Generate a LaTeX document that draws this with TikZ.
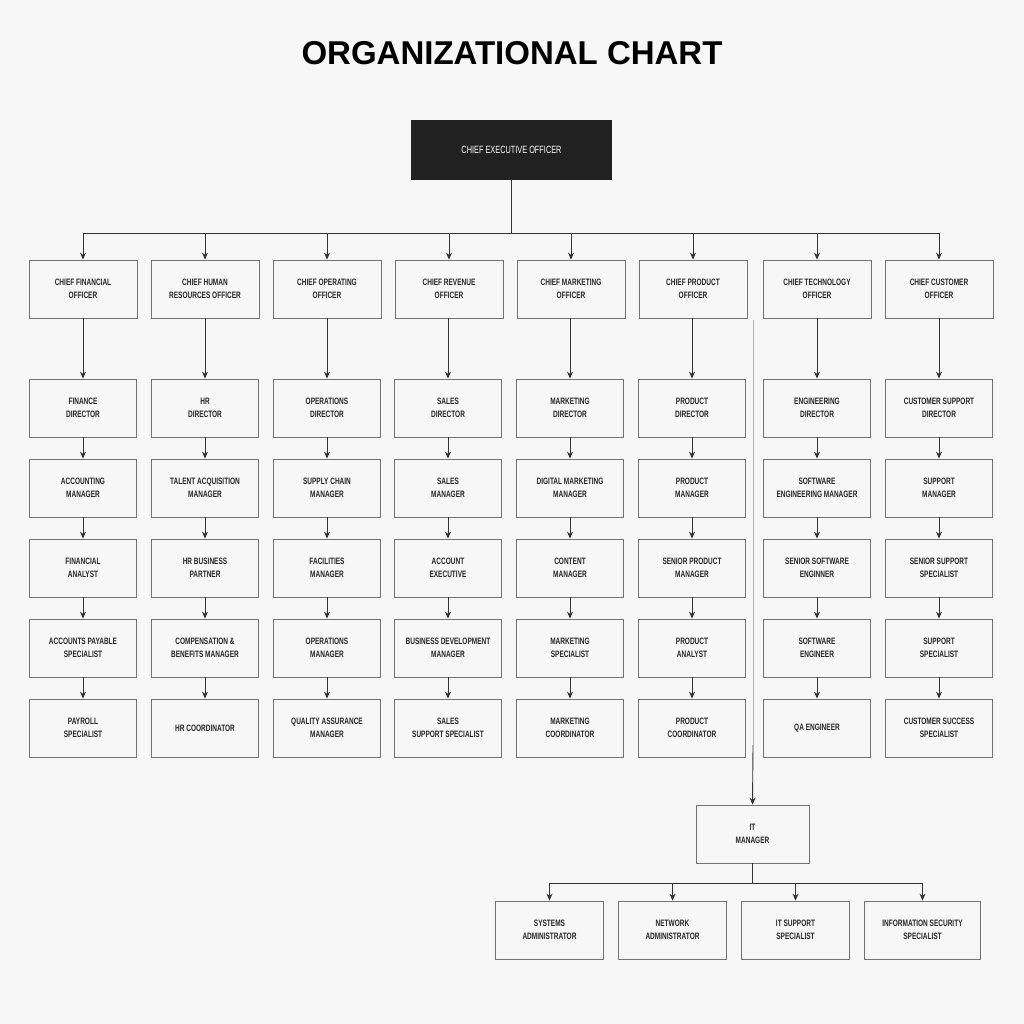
\documentclass[tikz,border=0pt]{standalone}
\usepackage{fontspec}
\setmainfont{Liberation Sans}
\newfontfamily\boxfont[FakeStretch=0.7]{Liberation Sans}
\usetikzlibrary{arrows.meta}
\begin{document}
\begin{tikzpicture}[x=1pt,y=-1pt,
  box/.style={draw=black!55,line width=0.8pt,fill=black!3,minimum width=107pt,minimum height=58pt,align=center,font=\boxfont\bfseries\fontsize{9.3}{13}\selectfont,text=black!85,inner sep=1pt},
  ceo/.style={fill=black!87,text=white,minimum width=201pt,minimum height=60pt,font=\boxfont\fontsize{10.5}{13}\selectfont},
  conn/.style={draw=black!80,line width=0.9pt},
  arr/.style={conn,-{Stealth[length=7pt,width=6pt]}}]
\fill[black!3] (0,0) rectangle (1024,1024);
\useasboundingbox (0,0) rectangle (1024,1024);
\node[font=\bfseries\fontsize{33}{40}\selectfont] (title) at (512,53) {ORGANIZATIONAL CHART};
\node[ceo] (ceo) at (511.5,150) {CHIEF EXECUTIVE OFFICER};
\coordinate (bus) at (511.5,233);
\draw[conn] (ceo.south) -- (bus);
\def\xs{{83,205,327,449,571,693,817,939}}
\foreach \t [count=\i] in {CHIEF FINANCIAL\\OFFICER,CHIEF HUMAN\\RESOURCES OFFICER,CHIEF OPERATING\\OFFICER,CHIEF REVENUE\\OFFICER,CHIEF MARKETING\\OFFICER,CHIEF PRODUCT\\OFFICER,CHIEF TECHNOLOGY\\OFFICER,CHIEF CUSTOMER\\OFFICER}{
  \pgfmathsetmacro\xx{\xs[\i-1]}
  \node[box,minimum width=108pt] (c\i) at (\xx,289) {\t};
  \coordinate (b\i) at (\xx,233);
  \draw[arr] (b\i) -- (c\i.north);
}
\draw[conn] (b1) -- (b8);
\def\ys{{408,488,568,648,728}}
\foreach \t [count=\k] in {FINANCE\\DIRECTOR,ACCOUNTING\\MANAGER,FINANCIAL\\ANALYST,ACCOUNTS PAYABLE\\SPECIALIST,PAYROLL\\SPECIALIST}{\pgfmathsetmacro\yy{\ys[\k-1]}\node[box] (r1-\k) at (83,\yy) {\t};}
\foreach \t [count=\k] in {HR\\DIRECTOR,TALENT ACQUISITION\\MANAGER,HR BUSINESS\\PARTNER,COMPENSATION \&\\BENEFITS MANAGER,HR COORDINATOR}{\pgfmathsetmacro\yy{\ys[\k-1]}\node[box] (r2-\k) at (205,\yy) {\t};}
\foreach \t [count=\k] in {OPERATIONS\\DIRECTOR,SUPPLY CHAIN\\MANAGER,FACILITIES\\MANAGER,OPERATIONS\\MANAGER,QUALITY ASSURANCE\\MANAGER}{\pgfmathsetmacro\yy{\ys[\k-1]}\node[box] (r3-\k) at (327,\yy) {\t};}
\foreach \t [count=\k] in {SALES\\DIRECTOR,SALES\\MANAGER,ACCOUNT\\EXECUTIVE,BUSINESS DEVELOPMENT\\MANAGER,SALES\\SUPPORT SPECIALIST}{\pgfmathsetmacro\yy{\ys[\k-1]}\node[box] (r4-\k) at (448,\yy) {\t};}
\foreach \t [count=\k] in {MARKETING\\DIRECTOR,DIGITAL MARKETING\\MANAGER,CONTENT\\MANAGER,MARKETING\\SPECIALIST,MARKETING\\COORDINATOR}{\pgfmathsetmacro\yy{\ys[\k-1]}\node[box] (r5-\k) at (570,\yy) {\t};}
\foreach \t [count=\k] in {PRODUCT\\DIRECTOR,PRODUCT\\MANAGER,SENIOR PRODUCT\\MANAGER,PRODUCT\\ANALYST,PRODUCT\\COORDINATOR}{\pgfmathsetmacro\yy{\ys[\k-1]}\node[box] (r6-\k) at (692,\yy) {\t};}
\foreach \t [count=\k] in {ENGINEERING\\DIRECTOR,SOFTWARE\\ENGINEERING MANAGER,SENIOR SOFTWARE\\ENGINNER,SOFTWARE\\ENGINEER,QA ENGINEER}{\pgfmathsetmacro\yy{\ys[\k-1]}\node[box] (r7-\k) at (817,\yy) {\t};}
\foreach \t [count=\k] in {CUSTOMER SUPPORT\\DIRECTOR,SUPPORT\\MANAGER,SENIOR SUPPORT\\SPECIALIST,SUPPORT\\SPECIALIST,CUSTOMER SUCCESS\\SPECIALIST}{\pgfmathsetmacro\yy{\ys[\k-1]}\node[box] (r8-\k) at (939,\yy) {\t};}
\foreach \c in {1,...,8}{
  \draw[arr] (r\c-1.north |- c\c.south) -- (r\c-1.north);
  \foreach \k [evaluate=\k as \n using int(\k+1)] in {1,2,3,4}{\draw[arr] (r\c-\k.south) -- (r\c-\n.north);}
}
\node[box,minimum width=113pt] (it) at (752.5,834) {IT\\MANAGER};
\coordinate (itsrc) at (753,320);
\coordinate (itmid) at (753,745);
\draw[black!30,line width=0.6pt] (itsrc) -- (itmid);
\draw[arr] (itmid) -- (it.north);
\coordinate (bus2) at (752.5,883);
\draw[conn] (it.south) -- (bus2);
\node[box,minimum width=108pt] (s1) at (549.5,930) {SYSTEMS\\ADMINISTRATOR};
\node[box,minimum width=108pt] (s2) at (672.5,930) {NETWORK\\ADMINISTRATOR};
\node[box,minimum width=108pt] (s3) at (795.5,930) {IT SUPPORT\\SPECIALIST};
\node[box,minimum width=116pt] (s4) at (922.5,930) {INFORMATION SECURITY\\SPECIALIST};
\foreach \s in {1,...,4}{\coordinate (t\s) at (s\s.north |- bus2); \draw[arr] (t\s) -- (s\s.north);}
\draw[conn] (t1) -- (t4);
\end{tikzpicture}
\end{document}
